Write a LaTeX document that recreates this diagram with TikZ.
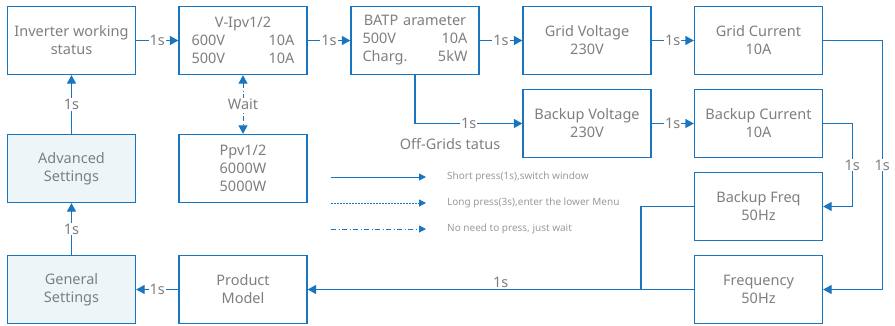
\documentclass[tikz,border=0pt]{standalone}
\usepackage{fontspec}
\setmainfont{Noto Sans}
\usetikzlibrary{arrows.meta,positioning,calc}
\definecolor{Flow}{HTML}{1A75C0}
\definecolor{Ink}{HTML}{7F7F7F}
\definecolor{Faint}{HTML}{9A9A9A}
\definecolor{SoftBlue}{HTML}{EEF5F9}
\tikzset{
 box/.style={draw=Flow, line width=1.3pt, fill=white, minimum width=128pt, minimum height=68pt, inner sep=0pt, align=center, text=Ink, font=\fontsize{14.5}{18}\selectfont},
 setbox/.style={box, fill=SoftBlue},
 wire/.style={draw=Flow, line width=1.3pt},
 arrow/.style={wire, -{Triangle[length=8.5pt,width=9pt]}},
 tag/.style={fill=white, inner sep=1pt, text=Ink, font=\fontsize{14.5}{16}\selectfont},
 legtext/.style={anchor=west, text=Faint, font=\fontsize{10}{12}\selectfont, inner sep=0pt},
 shortpress/.style={solid},
 longpress/.style={dash pattern=on 1.5pt off 1.5pt},
 waitpress/.style={dash pattern=on 5pt off 2.5pt on 1pt off 2.5pt}
}

\begin{document}
\begin{tikzpicture}[x=1pt,y=-1pt]
\useasboundingbox (0,0) rectangle (895,325);
% top row
\node[box] (inv) at (71.5,40.5) {Inverter working\\status};
\node[box, text width=103pt] (vipv) at (243,40.5) {V-Ipv1/2\\600V\hfill 10A\\500V\hfill 10A};
\node[box, text width=105pt] (bat) at (415,40.5) {BATP arameter\\500V\hfill 10A\\Charg.\hfill 5kW};
\node[box] (gvolt) at (587,40.5) {Grid Voltage\\230V};
\node[box] (gcur) at (758.5,40.5) {Grid Current\\10A};
% backup row
\node[box] (bvolt) at (587,123.5) {Backup Voltage\\230V};
\node[box] (bcur) at (758.5,123.5) {Backup Current\\10A};
\node[box] (bfreq) at (758.5,206.5) {Backup Freq\\50Hz};
% left side
\node[setbox] (adv) at (71.5,168.5) {Advanced\\Settings};
\node[box] (ppv) at (243,168.5) {Ppv1/2\\6000W\\5000W};
\node[setbox] (gen) at (71.5,289.5) {General\\Settings};
\node[box] (model) at (243,289.5) {Product\\Model};
\node[box] (freq) at (758.5,289.5) {Frequency\\50Hz};
\node[text=Ink, font=\fontsize{14.5}{16}\selectfont] (offgrid) at (450,144) {Off-Grids tatus};

% short press chain
\draw[arrow] (inv) -- node[tag]{1s} (vipv);
\draw[arrow] (vipv) -- node[tag]{1s} (bat);
\draw[arrow] (bat) -- node[tag]{1s} (gvolt);
\draw[arrow] (gvolt) -- node[tag]{1s} (gcur);
\draw[arrow] (bat.south) |- node[tag, pos=0.75]{1s} (bvolt.west);
\draw[arrow] (bvolt) -- node[tag]{1s} (bcur);
\draw[arrow] (gcur.east) -- ++(59,0) |- node[tag, pos=0.25]{1s} (freq.east);
\draw[arrow] (bcur.east) -- ++(29,0) |- node[tag, pos=0.25]{1s} (bfreq.east);
\coordinate (join) at (641,289.5);
\draw[wire] (bfreq.west) -| (join);
\draw[arrow] (freq.west) -- node[above, inner sep=1pt, text=Ink, font=\fontsize{14.5}{16}\selectfont]{1s} (model.east);
\draw[arrow] (model) -- node[tag]{1s} (gen);
\draw[arrow] (gen) -- node[tag]{1s} (adv);
\draw[arrow] (adv) -- node[tag]{1s} (inv);
% wait
\draw[wire, line width=1pt, waitpress, {Triangle[length=8.5pt,width=9pt]}-{Triangle[length=8.5pt,width=9pt]}] (vipv.south) -- node[tag]{Wait} (ppv.north);

% legend
\foreach \i/\y/\pat/\txt in {1/177/shortpress/{Short press(1s),switch window},
  2/203/longpress/{Long press(3s),enter the lower Menu},
  3/229/waitpress/{No need to press, just wait}}{
  \node[legtext] (leg\i) at (447,\y) {\txt};
  \coordinate (legs\i) at (331,\y);
  \draw[draw=Flow, line width=1pt, \pat, -{Triangle[length=7pt,width=7pt]}] (legs\i) -- ([xshift=-21pt]leg\i.west);
}
\end{tikzpicture}
\end{document}
